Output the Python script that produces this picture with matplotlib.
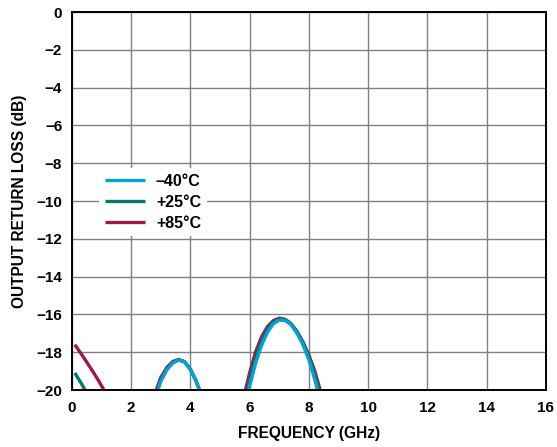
import numpy as np
import matplotlib
matplotlib.use("Agg")
import matplotlib.pyplot as plt

plt.rcParams['font.family'] = ['Liberation Sans', 'DejaVu Sans']

nan = np.nan
# Frequency (GHz) / return loss (dB) for each temperature; NaN separates visible segments
f_m40 = [2.8, 3.0, 3.2, 3.4, 3.6, 3.8, 4.0, 4.2, 4.4, nan,
         5.8, 6.0, 6.2, 6.4, 6.6, 6.8, 7.0, 7.2, 7.4, 7.6, 7.8, 8.0, 8.2, 8.4]
rl_m40 = [-20.5, -19.55, -18.95, -18.58, -18.42, -18.5, -18.9, -19.55, -20.4, nan,
          -21.2, -19.8, -18.6, -17.65, -16.95, -16.5, -16.3, -16.32, -16.55, -17.0, -17.6, -18.4, -19.45, -20.7]

f_p25 = [0.1, 0.3, 0.5, nan,
         2.8, 3.0, 3.2, 3.4, 3.6, 3.8, 4.0, 4.2, 4.4, nan,
         5.8, 6.0, 6.2, 6.4, 6.6, 6.8, 7.0, 7.2, 7.4, 7.6, 7.8, 8.0, 8.2, 8.4]
rl_p25 = [-19.1, -19.6, -20.15, nan,
          -20.4, -19.5, -18.92, -18.56, -18.41, -18.5, -18.9, -19.55, -20.4, nan,
          -20.9, -19.5, -18.35, -17.45, -16.8, -16.42, -16.25, -16.28, -16.5, -16.92, -17.5, -18.25, -19.2, -20.4]

f_p85 = [0.1, 0.3, 0.5, 0.7, 0.9, 1.1, 1.3, nan,
         2.8, 3.0, 3.2, 3.4, 3.6, 3.8, 4.0, 4.2, 4.4, nan,
         5.8, 6.0, 6.2, 6.4, 6.6, 6.8, 7.0, 7.2, 7.4, 7.6, 7.8, 8.0, 8.2, 8.4, 8.6]
rl_p85 = [-17.6, -18.05, -18.52, -19.0, -19.5, -20.05, -20.6, nan,
          -20.2, -19.35, -18.82, -18.5, -18.38, -18.5, -18.9, -19.55, -20.4, nan,
          -20.4, -19.1, -18.0, -17.2, -16.65, -16.33, -16.2, -16.26, -16.5, -16.9, -17.45, -18.15, -19.0, -20.1, -21.2]

labels = ['\u201340°C', '+25°C', '+85°C']
colors = ['#00A3D9', '#007A6C', '#A0184A']

x_ticks = [0, 2, 4, 6, 8, 10, 12, 14, 16]
y_ticks = [0, -2, -4, -6, -8, -10, -12, -14, -16, -18, -20]

fig = plt.figure(figsize=(5.57, 4.47), dpi=100)
ax = fig.add_axes([0.129, 0.1275, 0.851, 0.8455])

series = [(f_m40, rl_m40), (f_p25, rl_p25), (f_p85, rl_p85)]
zorders = [5, 4, 3]
for (f, r), lab, c, z in zip(series, labels, colors, zorders):
    ax.plot(f, r, color=c, lw=2.4, label=lab, zorder=z, solid_capstyle='butt')

ax.set_xlim(0, 16)
ax.set_ylim(-20, 0)
ax.set_xticks(x_ticks)
ax.set_yticks(y_ticks)
ax.set_xticklabels([str(v) for v in x_ticks])
ax.set_yticklabels(['0'] + ['\u2212%d' % -v for v in y_ticks[1:]])
ax.grid(True, color='#808080', lw=1.0)
ax.set_axisbelow(True)
ax.tick_params(axis='x', length=0, labelsize=11, pad=8)
ax.tick_params(axis='y', length=0, labelsize=11, pad=7)
for t in ax.get_xticklabels() + ax.get_yticklabels():
    t.set_fontweight('bold')
for s in ax.spines.values():
    s.set_linewidth(1.4)
    s.set_color('black')
    s.set_zorder(10)

ax.set_xlabel('FREQUENCY (GHz)', fontsize=11.2, fontweight='bold', labelpad=8)
ax.set_ylabel('OUTPUT RETURN LOSS (dB)', fontsize=11.2, fontweight='bold', labelpad=7)

leg = ax.legend(loc='upper left', bbox_to_anchor=(0.041, 0.608), frameon=True,
                fancybox=False, edgecolor='none', facecolor='white', framealpha=1,
                prop={'weight': 'bold', 'size': 11.5}, handlelength=2.5,
                labelspacing=0.37, borderpad=0.35, handletextpad=0.7)

fig.savefig('out.png', dpi=100)
